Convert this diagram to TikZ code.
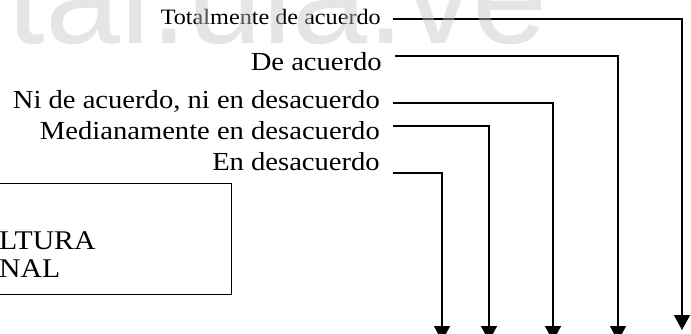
\documentclass[tikz,border=0pt]{standalone}
\usepackage{fontspec}
\setmainfont{Liberation Serif}
\newfontfamily\labfont[FakeStretch=1.1]{Liberation Serif}
\newfontfamily\wmfont{Liberation Sans}
\usetikzlibrary{arrows.meta,calc}
\definecolor{wm}{RGB}{195,195,195}
\begin{document}
\begin{tikzpicture}[x=1pt,y=-1pt,
  lab/.style={anchor=base east, inner sep=0pt, font=\labfont\fontsize{26}{30}\selectfont},
  labsmall/.style={lab, font=\labfont\fontsize{22}{26}\selectfont},
  boxtxt/.style={anchor=base west, inner sep=0pt, font=\labfont\fontsize{27}{30}\selectfont},
  conn/.style={line width=1.6pt, -{Triangle[length=15pt,width=16pt]}},
  frame/.style={draw, line width=1.4pt, inner sep=0pt}]
\useasboundingbox (0,0) rectangle (691,333);
\clip (0,0) rectangle (691,333);
% labels
\node[labsmall] (l1) at (381,24) {Totalmente de acuerdo};
\node[lab] (l2) at (382,70) {De acuerdo};
\node[lab] (l3) at (380,108) {Ni de acuerdo, ni en desacuerdo};
\node[lab] (l4) at (380,139) {Medianamente en desacuerdo};
\node[lab] (l5) at (380,170) {En desacuerdo};
% arrow ends
\coordinate (t1) at (682,330);
\coordinate (t2) at (618,341);
\coordinate (t3) at (553,341);
\coordinate (t4) at (489,341);
\coordinate (t5) at (442,341);
% connectors
\draw[conn] ($(l1.base east)+(12,-5)$) -| (t1);
\draw[conn] ($(l2.base east)+(13,-14)$) -| (t2);
\draw[conn] ($(l3.base east)+(13,-5)$) -| (t3);
\draw[conn] ($(l4.base east)+(13,-13)$) -| (t4);
\draw[conn] ($(l5.base east)+(13,3)$) -| (t5);
% box
\node[frame, minimum width=245pt, minimum height=111pt, anchor=north east] (box) at (232,183) {};
\node[boxtxt] (bt1) at (-1,249) {LTURA};
\node[boxtxt] (bt2) at (-1,277) {NAL};
% watermark
\node[anchor=base east, inner sep=0pt, font=\wmfont\fontsize{135}{135}\selectfont, text=wm, text opacity=0.44] (wmk) at (548,43) {tal.ula.ve};
\end{tikzpicture}
\end{document}
